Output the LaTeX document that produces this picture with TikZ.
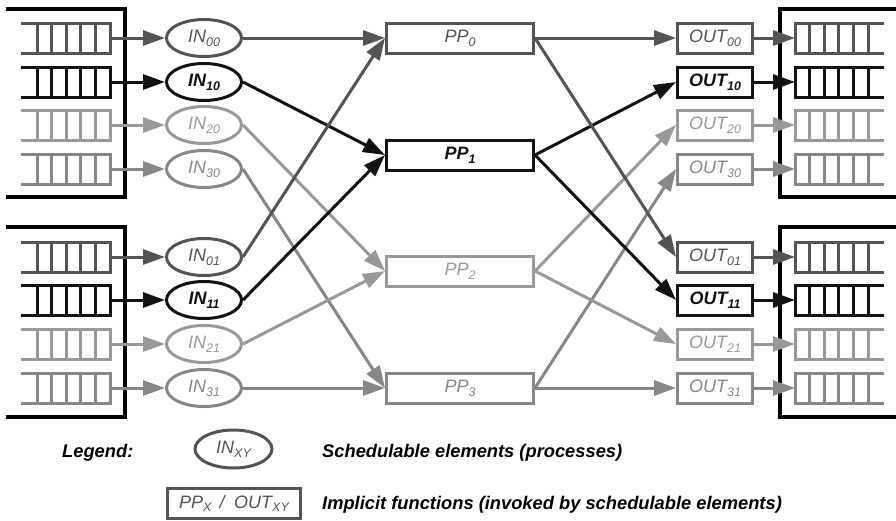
\documentclass[tikz,border=0pt]{standalone}
\usepackage{fontspec}
\setmainfont{Liberation Sans}
\usetikzlibrary{arrows.meta, shapes.geometric}
\definecolor{rowa}{gray}{0.33}
\definecolor{rowb}{gray}{0.07}
\definecolor{rowc}{gray}{0.60}
\definecolor{rowd}{gray}{0.53}
\newcommand{\lab}[2]{\textit{#1\raisebox{-0.4ex}{\fontsize{12.5}{13}\selectfont #2}}}
\tikzset{
  fl/.style={draw=#1, text=#1, line width=3pt},
  proc/.style={ellipse, fl=#1, minimum width=75pt, minimum height=37pt, inner sep=0pt, font=\fontsize{18}{20}\selectfont},
  func/.style={rectangle, fl=#1, minimum height=30pt, inner sep=0pt, font=\fontsize{18}{20}\selectfont},
  outbox/.style={func=#1, minimum width=75pt},
  ppbox/.style={func=#1, minimum width=147pt},
  link/.style={draw=#1, line width=3pt, -{Triangle[length=22pt,width=15pt]}},
  frame/.style={line width=3.5pt, draw=black},
  note/.style={font=\fontsize{18.3}{20}\selectfont\bfseries\itshape, anchor=west, inner sep=0pt},
  rowbold/.style={font=\fontsize{18}{20}\selectfont\bfseries}
}
\newcommand{\slots}[3]{% x of closed end, direction to open end, y
  \draw[line width=3pt, draw=\qcol] (#1+#2*89,#3-15) -- (#1,#3-15) -- (#1,#3+15) -- (#1+#2*89,#3+15);
  \foreach \s in {1,...,5} \draw[line width=3pt, draw=\qcol] (#1+#2*14.6*\s,#3-15) -- ++(0,30);
}
\begin{document}
\begin{tikzpicture}[x=1pt,y=-1pt]
\useasboundingbox (0,0) rectangle (896,520);

% port frames
\draw[frame] (6,9) -- (125,9) -- (125,197) -- (6,197);
\draw[frame] (6,227) -- (125,227) -- (125,417) -- (6,417);
\draw[frame] (896,9) -- (780,9) -- (780,197) -- (896,197);
\draw[frame] (896,227) -- (780,227) -- (780,417) -- (896,417);

% processing pipelines
\node[ppbox=rowa] (PP0) at (460,38) {\lab{PP}{0}};
\node[ppbox=rowb, rowbold] (PP1) at (460,155) {\lab{PP}{1}};
\node[ppbox=rowc] (PP2) at (460,271) {\lab{PP}{2}};
\node[ppbox=rowd] (PP3) at (460,388) {\lab{PP}{3}};

% one port per pass: row index / colour / y
\foreach \p/\ys in {0/{38,82,125,169},1/{257,300,344,388}}{
  \foreach \r/\qcol/\wt [count=\i from 0] in {0/rowa/,1/rowb/rowbold,2/rowc/,3/rowd/}{
    \pgfmathsetmacro{\yy}{{\ys}[\i]}
    \slots{110}{-1}{\yy}
    \slots{795}{1}{\yy}
    \coordinate (QI\r\p) at (110,\yy);
    \coordinate (QE\r\p) at (795,\yy);
    \node[proc=\qcol, \wt] (IN\r\p) at (204,\yy) {\lab{IN}{\r\p}};
    \node[outbox=\qcol, \wt] (OUT\r\p) at (715,\yy) {\lab{OUT}{\r\p}};
    \draw[link=\qcol] (QI\r\p) -- (IN\r\p);
    \draw[link=\qcol] (OUT\r\p) -- (QE\r\p);
    \draw[link=\qcol] (IN\r\p.east) -- (PP\r.west);
    \draw[link=\qcol] (PP\r.east) -- (OUT\r\p.west);
  }
}

% legend
\node[note] (legend) at (62,453) {Legend:};
\node[proc=rowa, minimum width=77pt, minimum height=38pt] (legio) at (233.5,449) {\lab{IN}{XY}};
\node[note] (legiotext) at (322,453) {Schedulable elements (processes)};
\node[func=rowa, minimum width=133pt] (legfn) at (234,503.5) {\lab{PP}{X}\hspace{0.45em}\textit{/}\hspace{0.45em}\lab{OUT}{XY}};
\node[note] (legfntext) at (322,505) {Implicit functions (invoked by schedulable elements)};
\end{tikzpicture}
\end{document}
